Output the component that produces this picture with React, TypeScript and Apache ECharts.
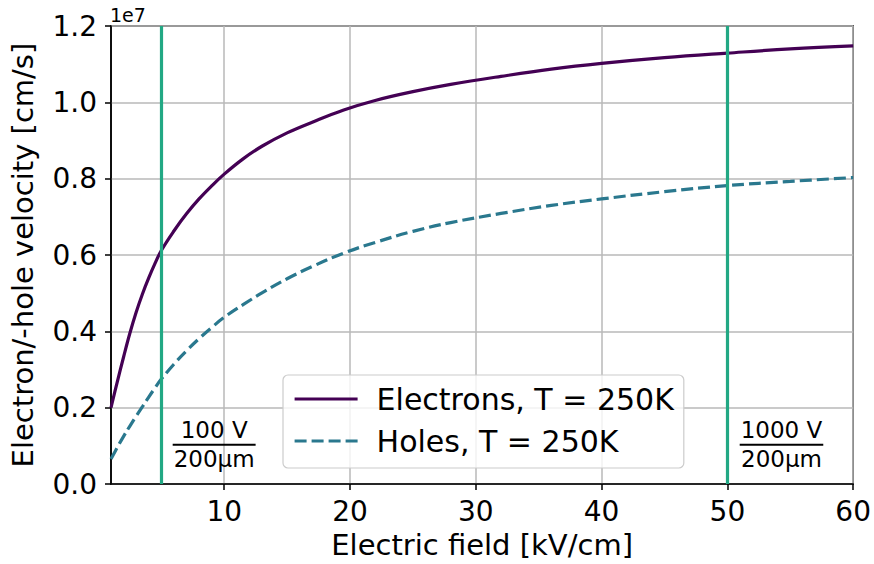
import React, { useEffect, useRef } from "react";
import * as echarts from "echarts";

// Drift velocity vs. electric field (Si, T = 250 K)
const fieldKV = [
  1, 1.5, 2, 2.5, 3, 3.5, 4, 4.5, 5, 6, 7, 8, 9, 10, 11.5, 13, 15, 17, 19.5, 22, 25, 28, 32, 36, 40, 45, 50, 55, 60,
];
const electronVelocity = [
  2.0e6, 2.68e6, 3.33e6, 3.95e6, 4.5e6, 4.98e6, 5.4e6, 5.78e6, 6.12e6, 6.63e6, 7.08e6, 7.47e6, 7.81e6, 8.12e6,
  8.52e6, 8.85e6, 9.2e6, 9.48e6, 9.8e6, 10.05e6, 10.28e6, 10.47e6, 10.68e6, 10.87e6, 11.02e6, 11.17e6, 11.29e6,
  11.4e6, 11.48e6,
];
const holeVelocity = [
  0.66e6, 0.96e6, 1.25e6, 1.52e6, 1.78e6, 2.03e6, 2.28e6, 2.52e6, 2.75e6, 3.14e6, 3.49e6, 3.81e6, 4.1e6, 4.37e6,
  4.7e6, 5.01e6, 5.38e6, 5.7e6, 6.05e6, 6.33e6, 6.62e6, 6.85e6, 7.09e6, 7.3e6, 7.47e6, 7.66e6, 7.82e6, 7.93e6,
  8.03e6,
];
const xTickValues = [10, 20, 30, 40, 50, 60];
const yMin = 0;
const yMax = 1.2e7;
const yStep = 2e6;

// Fields for 100 V and 1000 V across a 200 µm sensor
const biasFields = [5, 50];
const biasNumerators = ["100 V", "1000 V"];
const biasDenominators = ["200μm", "200μm"];

const seriesNames = ["Electrons, T = 250K", "Holes, T = 250K"];

const FONT = '"DejaVu Sans", sans-serif';
const PURPLE = "#440154";
const TEAL = "#2a788e";
const GREEN = "#22a884";

function measure(text: string, size: number): number {
  const c = document.createElement("canvas").getContext("2d");
  if (!c) return text.length * size * 0.6;
  c.font = `${size}px "DejaVu Sans"`;
  return c.measureText(text).width;
}

export default function App() {
  const ref = useRef<HTMLDivElement>(null);

  useEffect(() => {
    if (!ref.current) return;
    const chart = echarts.init(ref.current, null, { renderer: "svg" });

    const option: any = {
      animation: false,
      backgroundColor: "#ffffff",
      textStyle: { fontFamily: FONT },
      grid: {
        left: 111,
        right: 20,
        top: 26,
        bottom: 78,
        show: true,
        borderColor: "#000",
        borderWidth: 1.5,
        backgroundColor: "transparent",
      },
      legend: {
        data: seriesNames,
        orient: "vertical",
        left: 283,
        top: 375,
        itemWidth: 63,
        itemHeight: 14,
        itemGap: 12,
        padding: [9, 10, 12, 10],
        backgroundColor: "rgba(255,255,255,0.8)",
        borderColor: "#cccccc",
        borderWidth: 1.2,
        borderRadius: 5,
        itemStyle: { opacity: 0 },
        lineStyle: { width: 3.2 },
        textStyle: {
          fontFamily: FONT,
          fontSize: 30,
          color: "#000",
          lineHeight: 30,
          padding: [0, 0, 0, 14],
        },
      },
      xAxis: {
        type: "value",
        min: fieldKV[0],
        max: 60,
        name: "Electric field [kV/cm]",
        nameLocation: "middle",
        nameGap: 45,
        nameTextStyle: { fontFamily: FONT, fontSize: 29, color: "#000" },
        axisLine: { show: true, lineStyle: { color: "#000", width: 1.5 } },
        axisTick: { show: true, length: 6, customValues: xTickValues, lineStyle: { color: "#000", width: 1.5 } },
        axisLabel: { customValues: xTickValues, fontFamily: FONT, fontSize: 28, color: "#000", margin: 13 },
        splitLine: { show: true, lineStyle: { color: "#b8b8b8", width: 1.5 } },
      },
      yAxis: {
        type: "value",
        min: yMin,
        max: yMax,
        interval: yStep,
        name: "Electron/-hole velocity [cm/s]",
        nameLocation: "middle",
        nameGap: 74,
        nameTextStyle: { fontFamily: FONT, fontSize: 29, color: "#000" },
        axisLine: { show: true, lineStyle: { color: "#000", width: 1.5 } },
        axisTick: { show: true, length: 6, lineStyle: { color: "#000", width: 1.5 } },
        axisLabel: {
          fontFamily: FONT,
          fontSize: 28,
          color: "#000",
          margin: 14,
          formatter: (v: number) => (v / 1e7).toFixed(1),
        },
        splitLine: { show: true, lineStyle: { color: "#b8b8b8", width: 1.5 } },
      },
      series: [
        {
          name: "bias",
          type: "line",
          data: [],
          silent: true,
          z: 1,
          markLine: {
            silent: true,
            symbol: "none",
            label: { show: false },
            lineStyle: { color: GREEN, width: 3.2, type: "solid" },
            data: biasFields.map((f) => ({ xAxis: f })),
          },
        },
        {
          name: seriesNames[0],
          type: "line",
          data: fieldKV.map((e, i) => [e, electronVelocity[i]]),
          symbol: "none",
          smooth: 0.4,
          z: 3,
          lineStyle: { color: PURPLE, width: 3.2, join: "round" },
          itemStyle: { color: PURPLE },
        },
        {
          name: seriesNames[1],
          type: "line",
          data: fieldKV.map((e, i) => [e, holeVelocity[i]]),
          symbol: "none",
          smooth: 0.4,
          z: 3,
          lineStyle: { color: TEAL, width: 3.2, type: [12, 5], cap: "butt" },
          itemStyle: { color: TEAL },
        },
      ],
    };

    chart.setOption(option);

    // Offset label and the bias fractions, anchored in data coordinates
    const graphics: any[] = [];
    const corner = chart.convertToPixel({ gridIndex: 0 }, [fieldKV[0], yMax]) as number[];
    graphics.push({
      type: "text",
      x: corner[0] - 1,
      y: corner[1] - 11,
      silent: true,
      style: {
        text: "1e7",
        fontFamily: FONT,
        fontSize: 19,
        fill: "#000",
        align: "left",
        textAlign: "left",
        verticalAlign: "middle",
        textVerticalAlign: "middle",
      },
    });

    const fractionAt = [
      [9.2, 1.03e6],
      [54.3, 1.03e6],
    ];
    biasNumerators.forEach((num, i) => {
      const den = biasDenominators[i];
      const p = chart.convertToPixel({ gridIndex: 0 }, fractionAt[i]) as number[];
      const w = Math.max(measure(num, 23), measure(den, 23)) + 2;
      graphics.push(
        {
          type: "text",
          x: p[0],
          y: p[1] - 15,
          silent: true,
          style: {
            text: num,
            fontFamily: FONT,
            fontSize: 23,
            fill: "#000",
            align: "center",
            textAlign: "center",
            verticalAlign: "middle",
            textVerticalAlign: "middle",
          },
        },
        {
          type: "line",
          silent: true,
          shape: { x1: p[0] - w / 2, y1: p[1], x2: p[0] + w / 2, y2: p[1] },
          style: { stroke: "#000", lineWidth: 2 },
        },
        {
          type: "text",
          x: p[0],
          y: p[1] + 14,
          silent: true,
          style: {
            text: den,
            fontFamily: FONT,
            fontSize: 23,
            fill: "#000",
            align: "center",
            textAlign: "center",
            verticalAlign: "middle",
            textVerticalAlign: "middle",
          },
        }
      );
    });
    chart.setOption({ graphic: graphics });

    return () => chart.dispose();
  }, []);

  return (
    <div
      ref={ref}
      style={{ position: "fixed", left: 0, top: 0, width: 874, height: 564, background: "#fff" }}
    />
  );
}
